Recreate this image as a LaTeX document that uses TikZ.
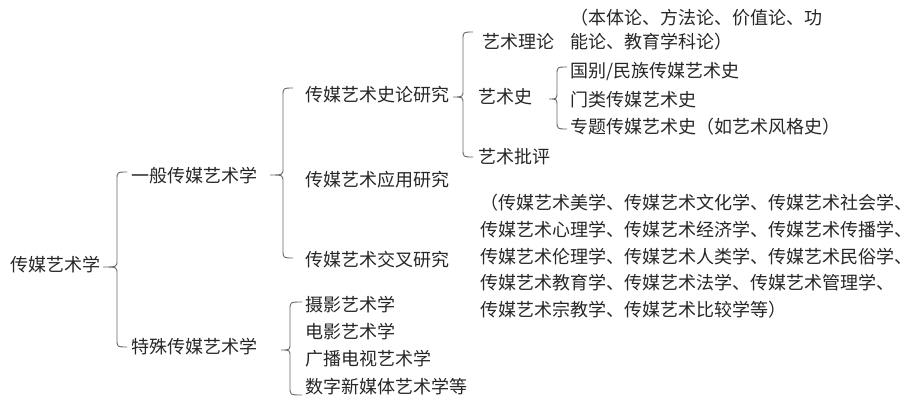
\documentclass[tikz,border=0pt]{standalone}
\usepackage{fontspec}
\newfontfamily\cjk{Noto Sans CJK SC}
\newcommand\mkbrace[6]{%
  \draw[bracestyle] (#1,#4) .. controls (#2,#4) .. (#2,#4+8) -- (#2,#5-7)
    .. controls (#2,#5) .. (#3,#5) .. controls (#2,#5) .. (#2,#5+7)
    -- (#2,#6-8) .. controls (#2,#6) .. (#1,#6);}
\begin{document}
\begin{tikzpicture}[x=1pt,y=-1pt,
  lbl/.style={anchor=west,inner sep=0pt,text=black!85,font=\cjk\fontsize{18}{20}\selectfont},
  bracestyle/.style={draw=black!60,line width=0.9pt}]
\useasboundingbox (0,0) rectangle (917,409);
% level 0
\node[lbl] (root) at (10,265) {传媒艺术学};
% level 1
\node[lbl] (gen) at (131,176) {一般传媒艺术学};
\node[lbl] (spe) at (131,347) {特殊传媒艺术学};
\mkbrace{127}{117}{103}{172}{267}{347}
% level 2 (general)
\node[lbl] (hist) at (305,95) {传媒艺术史论研究};
\node[lbl] (appl) at (305,180) {传媒艺术应用研究};
\node[lbl] (cross) at (305,260) {传媒艺术交叉研究};
\mkbrace{293}{283}{270}{88}{175}{258}
% level 3 (history/theory)
\node[lbl] (theo) at (482,42) {艺术理论};
\node[lbl] (arth) at (478,97) {艺术史};
\node[lbl] (crit) at (478,157) {艺术批评};
\mkbrace{473}{463}{453}{32}{97}{157}
\node[lbl] (theoA) at (570,18) {（本体论、方法论、价值论、功};
\node[lbl] (theoB) at (570,42) {能论、教育学科论）};
% level 4 (art history)
\node[lbl] (h1) at (570,72) {国别/民族传媒艺术史};
\node[lbl] (h2) at (570,100) {门类传媒艺术史};
\node[lbl] (h3) at (570,127) {专题传媒艺术史（如艺术风格史）};
\mkbrace{567}{557}{549}{67}{99}{129}
% cross-disciplinary list
\node[lbl] (c1) at (480,203) {（传媒艺术美学、传媒艺术文化学、传媒艺术社会学、};
\node[lbl] (c2) at (480,230) {传媒艺术心理学、传媒艺术经济学、传媒艺术传播学、};
\node[lbl] (c3) at (480,257) {传媒艺术伦理学、传媒艺术人类学、传媒艺术民俗学、};
\node[lbl] (c4) at (480,283) {传媒艺术教育学、传媒艺术法学、传媒艺术管理学、};
\node[lbl] (c5) at (480,310) {传媒艺术宗教学、传媒艺术比较学等）};
% special
\node[lbl] (s1) at (305,305) {摄影艺术学};
\node[lbl] (s2) at (305,332) {电影艺术学};
\node[lbl] (s3) at (305,359) {广播电视艺术学};
\node[lbl] (s4) at (305,387) {数字新媒体艺术学等};
\mkbrace{302}{290}{281}{302}{350}{395}
\end{tikzpicture}
\end{document}
